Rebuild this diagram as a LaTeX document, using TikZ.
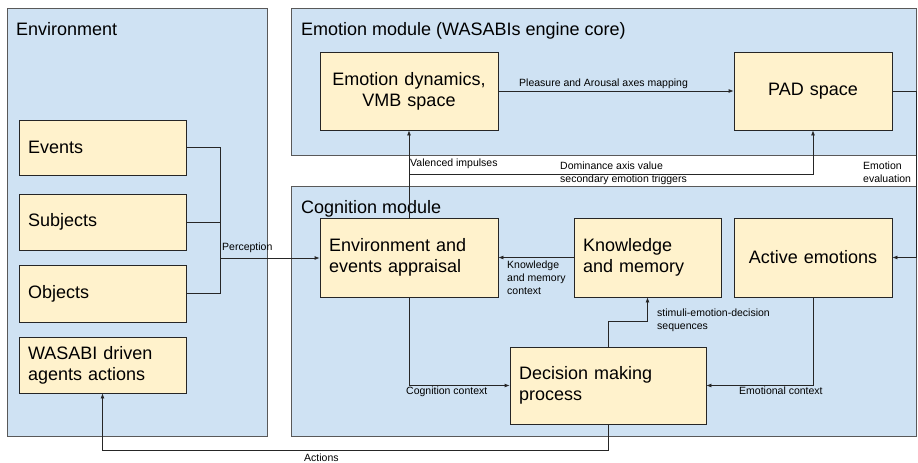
\documentclass[tikz,border=0pt]{standalone}
\usepackage{fontspec}
\setmainfont{Liberation Sans}
\usetikzlibrary{arrows.meta}
\definecolor{panelblue}{HTML}{CFE2F3}
\definecolor{boxyellow}{HTML}{FFF2CC}

\begin{document}
\begin{tikzpicture}[x=1pt, y=-1pt,
  panel/.style={draw=black!65, fill=panelblue, line width=0.8pt, inner sep=0pt},
  paneltitle/.style={anchor=base west, inner sep=0pt, font=\fontsize{18}{21}\selectfont},
  box/.style={draw=black!85, fill=boxyellow, line width=0.8pt, inner xsep=9pt, inner ysep=0pt, font=\fontsize{18}{21}\selectfont},
  lbl/.style={anchor=base west, inner sep=0pt, align=left, font=\fontsize{10.5}{13}\selectfont},
  link/.style={draw=black!85, line width=0.8pt},
  flow/.style={link, -{Latex[length=5pt,width=4pt]}}]
\useasboundingbox (0,0) rectangle (918,463);

% panels
\node[panel, minimum width=625, minimum height=147] (emopanel) at (603.5,81.5) {};
\node[panel, minimum width=625, minimum height=250] (cogpanel) at (603.5,311) {};
\node[panel, minimum width=260, minimum height=428] (envpanel) at (137,222) {};
\node[paneltitle] (envtitle) at (16,35) {Environment};
\node[paneltitle] (emotitle) at (301,35) {Emotion module (WASABIs engine core)};
\node[paneltitle] (cogtitle) at (301,213) {Cognition module};

% boxes
\node[box, text width=149, minimum height=55, align=left] (events) at (102.5,147.5) {Events};
\node[box, text width=149, minimum height=56, align=left] (subjects) at (102.5,222) {Subjects};
\node[box, text width=149, minimum height=57, align=left] (objects) at (102.5,293.5) {Objects};
\node[box, text width=149, minimum height=56, align=left] (wasabi) at (102.5,365) {WASABI driven\\agents actions};
\node[box, text width=160, minimum height=78, align=center] (dynamics) at (409,91) {Emotion dynamics,\\VMB space};
\node[box, text width=140, minimum height=78, align=center] (pad) at (813,91) {PAD space};
\node[box, text width=160, minimum height=79, align=left] (appraisal) at (409,257.5) {Environment and\\events appraisal};
\node[box, text width=129, minimum height=79, align=left] (knowledge) at (647.5,257.5) {Knowledge\\and memory};
\node[box, text width=140, minimum height=79, align=center] (active) at (813,257.5) {Active emotions};
\node[box, text width=178, minimum height=77, align=left] (decision) at (608,385.5) {Decision making\\process};

% labels (base = last line)
\node[lbl] (lperception) at (222,250) {Perception};
\node[lbl] (lpleasure) at (519,86) {Pleasure and Arousal axes mapping};
\node[lbl] (lvalenced) at (410,166) {Valenced impulses};
\node[lbl] (ldominance) at (560,182) {Dominance axis value\\secondary emotion triggers};
\node[lbl] (levaluation) at (863,182) {Emotion\\evaluation};
\node[lbl] (lknowledge) at (507,294) {Knowledge\\and memory\\context};
\node[lbl] (lcognition) at (406,394) {Cognition context};
\node[lbl] (lemotional) at (739,394) {Emotional context};
\node[lbl] (lstimuli) at (657,329) {stimuli-emotion-decision\\sequences};
\node[lbl] (lactions) at (304,461) {Actions};

% connectors
\coordinate (join) at (220,258);
\coordinate (dom) at (409,174);
\draw[link] (events.east) -| (join);
\draw[link] (objects.east) -| (join);
\draw[link] (subjects.east) -- (subjects.east -| join);
\draw[flow] (join) -- (join -| appraisal.west);
\draw[flow] (dynamics.east) -- (pad.west);
\draw[flow] (appraisal.north) -- (dynamics.south);
\draw[flow] (dom) -| (pad.south);
\draw[flow] (pad.east) -- ++(24,0) |- (active.east);
\draw[flow] (knowledge.west) -- (appraisal.east);
\draw[flow] (appraisal.south) |- (decision.west);
\draw[flow] (active.south) |- (decision.east);
\draw[flow] (decision.north) -- ++(0,-25) -| (knowledge.south);
\draw[flow] (decision.south) -- ++(0,26) -| (wasabi.south);
\end{tikzpicture}
\end{document}
